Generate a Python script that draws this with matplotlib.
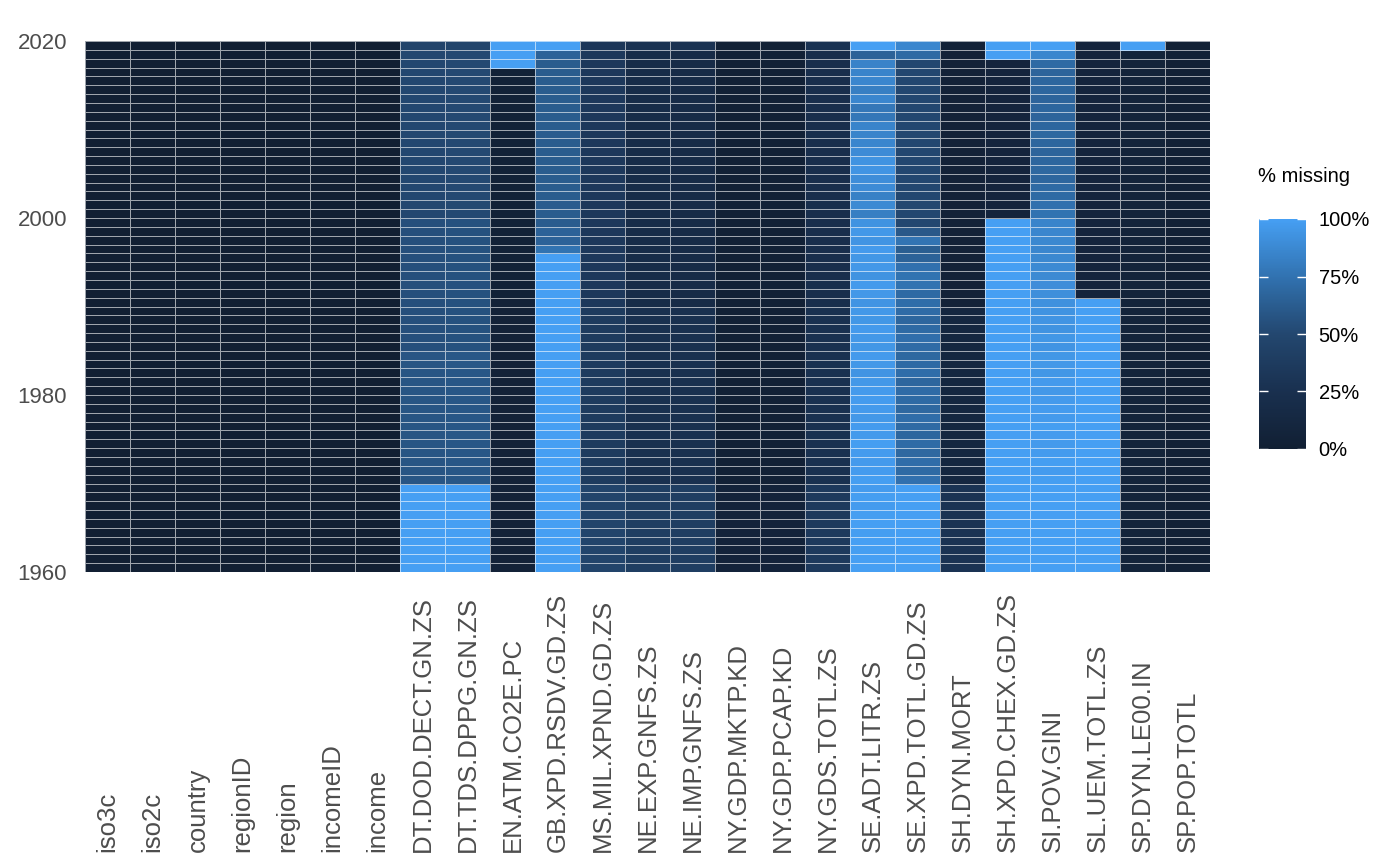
import numpy as np
import matplotlib
matplotlib.use("Agg")
import matplotlib.pyplot as plt
from matplotlib.colors import LinearSegmentedColormap
import matplotlib.transforms as mtransforms

plt.rcParams['font.family'] = ['Liberation Sans', 'DejaVu Sans']

variables = ["iso3c", "iso2c", "country", "regionID", "region", "incomeID", "income",
             "DT.DOD.DECT.GN.ZS", "DT.TDS.DPPG.GN.ZS", "EN.ATM.CO2E.PC", "GB.XPD.RSDV.GD.ZS",
             "MS.MIL.XPND.GD.ZS", "NE.EXP.GNFS.ZS", "NE.IMP.GNFS.ZS", "NY.GDP.MKTP.KD",
             "NY.GDP.PCAP.KD", "NY.GDS.TOTL.ZS", "SE.ADT.LITR.ZS", "SE.XPD.TOTL.GD.ZS",
             "SH.DYN.MORT", "SH.XPD.CHEX.GD.ZS", "SI.POV.GINI", "SL.UEM.TOTL.ZS",
             "SP.DYN.LE00.IN", "SP.POP.TOTL"]

years = list(range(1960, 2020))  # each row spans [year, year+1]

# fraction missing per variable, listed 1960 -> 2019
iso3c = [0.0] * 60
iso2c = [0.0] * 60
country = [0.0] * 60
regionID = [0.0] * 60
region = [0.0] * 60
incomeID = [0.0] * 60
income = [0.0] * 60
dt_dod = [1.0] * 10 + [0.58] * 15 + [0.55] * 15 + [0.50] * 19 + [0.47]
dt_tds = [1.0] * 10 + [0.59] * 15 + [0.56] * 15 + [0.51] * 19 + [0.48]
en_atm = [0.05] * 31 + [0.04] * 26 + [1.0] * 3
gb_xpd = [1.0] * 36 + [0.75] + [0.66] * 2 + [0.62] * 19 + [0.66] + [1.0]
ms_mil = [0.47] * 10 + [0.37] * 20 + [0.34] * 29 + [0.32]
ne_exp = [0.40] * 10 + [0.25] * 20 + [0.19] * 29 + [0.27]
ne_imp = [0.40] * 10 + [0.25] * 20 + [0.18] * 29 + [0.27]
ny_mktp = [0.06] * 10 + [0.03] * 50
ny_pcap = [0.06] * 10 + [0.03] * 50
ny_gds = [0.35] * 10 + [0.26] * 20 + [0.22] * 29 + [0.28]
se_adt = [1.0, 1.0, 0.99, 1.0, 0.99, 1.0, 0.99, 0.98, 0.99, 0.98,
          0.99, 0.98, 0.97, 0.98, 0.99, 0.97, 0.98, 0.96, 0.97, 0.98,
          0.97, 0.96, 0.94, 0.96, 0.97, 0.95, 0.96, 0.97, 0.95, 0.96,
          0.94, 0.96, 0.97, 0.93, 0.96, 0.95, 0.97, 0.94, 0.96, 0.93,
          0.82, 0.88, 0.83, 0.89, 0.90, 0.94, 0.93, 0.89, 0.86, 0.85,
          0.85, 0.78, 0.78, 0.86, 0.82, 0.86, 0.85, 0.84,
          0.66, 1.0]
se_xpd = ([1.0] * 10 +
          [0.74, 0.70, 0.72, 0.69, 0.71, 0.68, 0.70, 0.72, 0.69, 0.70,
           0.71, 0.68, 0.72, 0.70, 0.69, 0.71, 0.73, 0.70, 0.68, 0.71,
           0.72, 0.70, 0.75, 0.75, 0.74, 0.66, 0.63] +
          [0.76, 0.60] + [0.50] * 19 + [0.70, 0.86])
sh_dyn = [0.28] * 10 + [0.12] * 20 + [0.05] * 30
sh_xpd = [1.0] * 40 + [0.08] * 18 + [1.0] * 2
si_pov = ([1.0] * 10 + [0.99, 0.98, 0.99, 0.98, 0.97, 0.98, 0.99, 0.97, 0.98, 0.97] +
          [0.96, 0.97, 0.95, 0.96, 0.95, 0.94, 0.95, 0.93, 0.94, 0.93] +
          [0.92, 0.91, 0.90, 0.88, 0.88, 0.87, 0.86, 0.87, 0.86, 0.85] +
          [0.75, 0.74, 0.70, 0.70, 0.68, 0.69, 0.68, 0.67, 0.68, 0.69,
           0.68, 0.67, 0.68, 0.67, 0.68, 0.68, 0.67, 0.70] +
          [0.86, 1.0])
sl_uem = [1.0] * 31 + [0.08] * 29
sp_dyn = [0.07] * 59 + [1.0]
sp_pop = [0.03] * 60

columns = [iso3c, iso2c, country, regionID, region, incomeID, income, dt_dod, dt_tds,
           en_atm, gb_xpd, ms_mil, ne_exp, ne_imp, ny_mktp, ny_pcap, ny_gds, se_adt,
           se_xpd, sh_dyn, sh_xpd, si_pov, sl_uem, sp_dyn, sp_pop]

Z = np.array(columns).T  # rows = years, cols = variables

cmap = LinearSegmentedColormap.from_list(
    "miss", [(0.0, "#111F33"), (0.25, "#19304F"), (0.5, "#23476F"),
             (0.75, "#3172B0"), (1.0, "#469FF3")])

W, H = 1400, 866
fig = plt.figure(figsize=(W / 100, H / 100), dpi=100)
ax = fig.add_axes([85 / W, 1 - 572 / H, (1210 - 85) / W, (572 - 41) / H])

xedges = np.arange(len(variables) + 1)
yedges = np.arange(1960, 2021)
mesh = ax.pcolormesh(xedges, yedges, Z, cmap=cmap, vmin=0, vmax=1,
                     edgecolors=(1, 1, 1, 0.6), linewidth=0.6)
ax.set_xlim(0, len(variables))
ax.set_ylim(1960, 2020)
for s in ax.spines.values():
    s.set_visible(False)
ax.set_yticks([1960, 1980, 2000, 2020])
ax.set_yticklabels(["1960", "1980", "2000", "2020"])
ax.tick_params(axis='y', length=0, pad=13, labelsize=16, labelcolor="#4D4D4D")
ax.set_xticks([])

trans = mtransforms.blended_transform_factory(ax.transData, fig.transFigure)
for i, v in enumerate(variables):
    ax.text(i + 0.5, 14 / H, v, rotation=90, ha='center', va='bottom',
            fontsize=18.5, color="#4D4D4D", transform=trans)

cax = fig.add_axes([1259 / W, 1 - 449 / H, 47 / W, 230 / H])
cb = fig.colorbar(mesh, cax=cax)
cb.outline.set_visible(False)
cb.set_ticks([0, 0.25, 0.5, 0.75, 1.0])
cb.set_ticklabels(["0%", "25%", "50%", "75%", "100%"])
cax.tick_params(direction='in', color='white', length=6.5, width=1,
                left=True, right=True, labelsize=14.5, pad=9)
fig.text(1258 / W, 1 - 176 / H, "% missing", ha='left', va='center', fontsize=14.5,
         color="black")

fig.savefig("out.png", dpi=100, facecolor="white")
